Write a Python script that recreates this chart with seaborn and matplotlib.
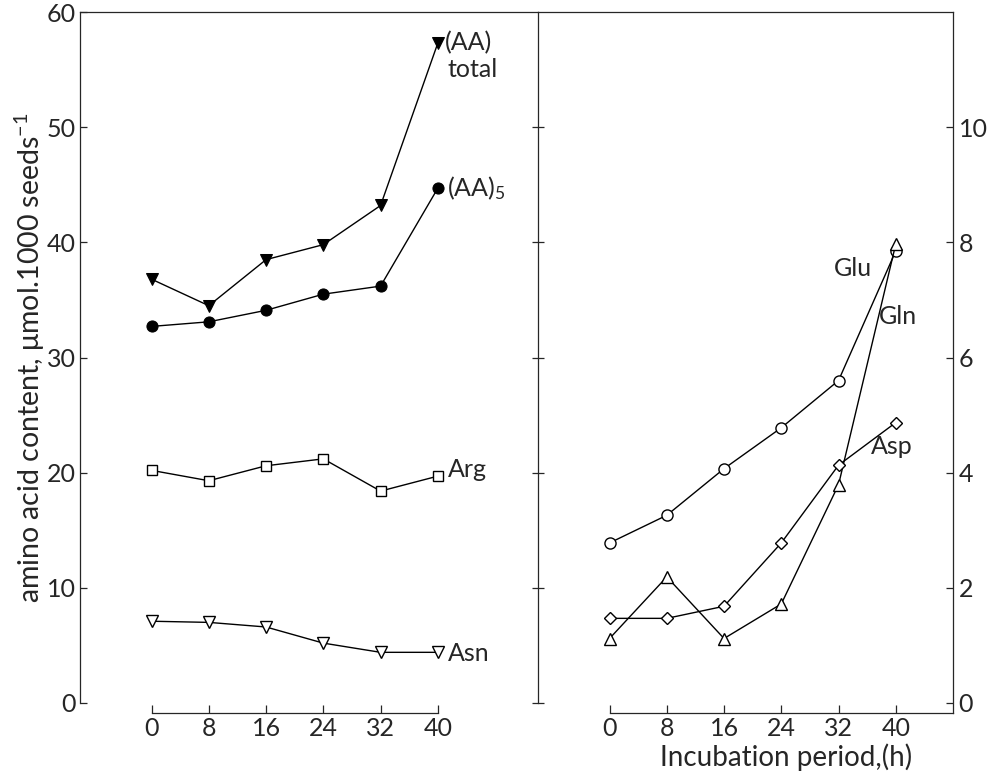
import matplotlib
matplotlib.use("Agg")
import matplotlib.pyplot as plt
import pandas as pd
import seaborn as sns

# incubation time (h)
hours = [0, 8, 16, 24, 32, 40]

# left panel, umol / 1000 seeds
aa_total = [36.8, 34.5, 38.5, 39.8, 43.2, 57.3]
aa_5 = [32.7, 33.1, 34.1, 35.5, 36.2, 44.7]
arg = [20.2, 19.3, 20.6, 21.2, 18.4, 19.7]
asn = [7.1, 7.0, 6.6, 5.2, 4.4, 4.4]

# right panel
glu = [2.78, 3.26, 4.07, 4.78, 5.60, 7.85]
gln = [1.12, 2.19, 1.12, 1.72, 3.79, 7.97]
asp = [1.47, 1.47, 1.68, 2.78, 4.13, 4.87]

left_yticks = [0, 10, 20, 30, 40, 50, 60]
right_yticks = [0, 2, 4, 6, 8, 10]

sns.set_theme(style="ticks")
plt.rcParams["font.family"] = ["Lato", "DejaVu Sans"]
plt.rcParams["mathtext.fontset"] = "custom"
plt.rcParams["mathtext.rm"] = "Lato"
plt.rcParams["mathtext.it"] = "Lato:italic"
plt.rcParams["axes.linewidth"] = 0.9

df_left = pd.DataFrame({"h": hours, "total": aa_total, "aa5": aa_5, "arg": arg, "asn": asn})
df_right = pd.DataFrame({"h": hours, "glu": glu, "gln": gln, "asp": asp})

fig = plt.figure(figsize=(9.95, 7.71), dpi=100)
ax1 = fig.add_axes([0.0804, 0.0882, 0.4603, 0.8962])
ax2 = fig.add_axes([0.5407, 0.0882, 0.4171, 0.8962])

line_kw = dict(color="black", linewidth=1.0, markeredgecolor="black", legend=False)
open_kw = dict(markerfacecolor="white", markeredgewidth=1.0)

sns.lineplot(data=df_left, x="h", y="total", marker="v", markersize=9,
             markerfacecolor="black", ax=ax1, **line_kw)
sns.lineplot(data=df_left, x="h", y="aa5", marker="o", markersize=8,
             markerfacecolor="black", ax=ax1, **line_kw)
sns.lineplot(data=df_left, x="h", y="arg", marker="s", markersize=7, ax=ax1, **line_kw, **open_kw)
sns.lineplot(data=df_left, x="h", y="asn", marker="v", markersize=8, ax=ax1, **line_kw, **open_kw)

sns.lineplot(data=df_right, x="h", y="glu", marker="o", markersize=8, ax=ax2, **line_kw, **open_kw)
sns.lineplot(data=df_right, x="h", y="gln", marker="^", markersize=8, ax=ax2, **line_kw, **open_kw)
sns.lineplot(data=df_right, x="h", y="asp", marker="D", markersize=6.5, ax=ax2, **line_kw, **open_kw)

fs = 18
lab = 18
# ---- left panel axes
ax1.set_xlim(-10, 54)
ax1.set_ylim(0, 60)
ax1.spines["right"].set_visible(False)
ax1.spines["bottom"].set_position(("outward", 7))
ax1.spines["bottom"].set_bounds(0, 40)
ax1.set_xticks(hours)
ax1.set_yticks(left_yticks)
ax1.tick_params(axis="x", direction="in", length=6, width=0.9, pad=3, labelsize=fs)
ax1.tick_params(axis="y", direction="in", length=5, width=0.9, pad=3, labelsize=fs)
ax1.set_xlabel("")
ax1.set_ylabel("amino acid content, \u03bcmol.1000 seeds$^{-1}$", fontsize=20.5, labelpad=0)

ax1.text(41.0, 57.3, "(AA)", fontsize=lab, va="center", ha="left")
ax1.text(41.3, 55.0, "total", fontsize=lab, va="center", ha="left")
ax1.text(41.3, 44.7, "(AA)$_5$", fontsize=lab, va="center", ha="left")
ax1.text(41.4, 20.3, "Arg", fontsize=lab, va="center", ha="left")
ax1.text(41.4, 4.3, "Asn", fontsize=lab, va="center", ha="left")

# ---- right panel axes
ax2.set_xlim(-10, 48)
ax2.set_ylim(0, 12)
ax2.spines["bottom"].set_position(("outward", 7))
ax2.spines["bottom"].set_bounds(0, 48)
ax2.spines["right"].set_visible(False)
ax2.set_xticks(hours)
ax2.set_yticks(right_yticks)
ax2.tick_params(axis="x", direction="in", length=6, width=0.9, pad=3, labelsize=fs)
ax2.tick_params(axis="y", direction="inout", length=9, width=0.9, labelleft=False)
ax2.set_xlabel("Incubation period,(h)", fontsize=20)
ax2.xaxis.set_label_coords(0.598, -0.058)
ax2.set_ylabel("")

axr = ax2.twinx()
axr.set_ylim(0, 12)
axr.set_yticks(right_yticks)
for s in ["left", "top", "bottom"]:
    axr.spines[s].set_visible(False)
axr.spines["right"].set_bounds(-0.17, 12)
axr.tick_params(axis="y", direction="in", length=5, width=0.9, pad=4, labelsize=fs)

ax2.text(31.3, 7.55, "Glu", fontsize=lab, va="center", ha="left")
ax2.text(37.7, 6.71, "Gln", fontsize=lab, va="center", ha="left")
ax2.text(36.5, 4.46, "Asp", fontsize=lab, va="center", ha="left")

fig.savefig("out.png", dpi=100)
